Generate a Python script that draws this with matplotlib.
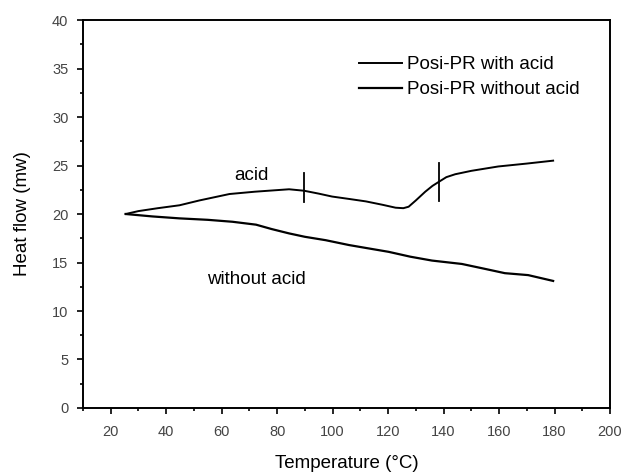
import numpy as np
import matplotlib.pyplot as plt
from matplotlib.ticker import MultipleLocator

plt.rcParams['font.family'] = ['Liberation Sans', 'DejaVu Sans']

# DSC traces read as (temperature, heat flow) pairs
t_acid = [25.4, 30, 37, 44.8, 52, 62.8, 72, 84.3, 89.7, 95, 99.8, 106, 112,
          118, 122.7, 125.5, 127.4, 130, 133.4, 136, 138.2, 141, 144.2, 150,
          159.7, 170, 179.5]
hf_acid = [20.0, 20.3, 20.6, 20.9, 21.4, 22.06, 22.3, 22.55, 22.4, 22.1, 21.8,
           21.55, 21.3, 20.95, 20.65, 20.6, 20.75, 21.4, 22.3, 22.9, 23.3,
           23.8, 24.1, 24.45, 24.9, 25.2, 25.5]

t_noacid = [25.4, 35, 44.8, 55, 63.9, 72.4, 78, 84.3, 90, 97.5, 105.9, 112,
            120.2, 128, 135.8, 146.6, 154, 162.1, 170.5, 179.5]
hf_noacid = [20.0, 19.75, 19.55, 19.4, 19.2, 18.9, 18.45, 18.0, 17.65, 17.3,
             16.8, 16.5, 16.1, 15.6, 15.2, 14.85, 14.4, 13.9, 13.7, 13.1]

# transition markers: (temperature, low, high)
marks = [(89.7, 21.2, 24.2), (138.2, 21.3, 25.3)]

fig = plt.figure(figsize=(6.22, 4.72), dpi=100)
ax = fig.add_axes([0.1334, 0.1356, 0.8473, 0.822])

ax.plot(t_acid, hf_acid, color='black', lw=1.4, label='Posi-PR with acid')
ax.plot(t_noacid, hf_noacid, color='black', lw=1.6, label='Posi-PR without acid')
for t, lo, hi in marks:
    ax.plot([t, t], [lo, hi], color='black', lw=1.3)

ax.text(64.6, 24.0, 'acid', fontsize=13.5, va='center', ha='left')
ax.text(54.9, 13.25, 'without acid', fontsize=13.5, va='center', ha='left')

ax.set_xlim(10, 200)
ax.set_ylim(0, 40)
ax.xaxis.set_major_locator(MultipleLocator(20))
ax.xaxis.set_minor_locator(MultipleLocator(10))
ax.yaxis.set_major_locator(MultipleLocator(5))
ax.yaxis.set_minor_locator(MultipleLocator(2.5))
ax.set_xticks(np.arange(20, 201, 20))
ax.tick_params(which='both', direction='out', top=False, right=False,
               labelsize=10.5, labelcolor='#444444', width=1.2)
ax.tick_params(which='major', length=4.5)
ax.tick_params(which='minor', length=2.5)
ax.tick_params(axis='x', which='major', pad=8)
ax.tick_params(axis='y', which='major', pad=6)
for s in ax.spines.values():
    s.set_linewidth(1.4)

ax.set_xlabel('Temperature (°C)', fontsize=13.5, labelpad=11)
ax.set_ylabel('Heat flow (mw)', fontsize=13.5, labelpad=15)

ax.legend(loc='upper right', bbox_to_anchor=(0.975, 0.95), frameon=False,
          fontsize=13.5, handlelength=2.3, handletextpad=0.3, labelspacing=0.42)

fig.savefig('out.png', dpi=100)
